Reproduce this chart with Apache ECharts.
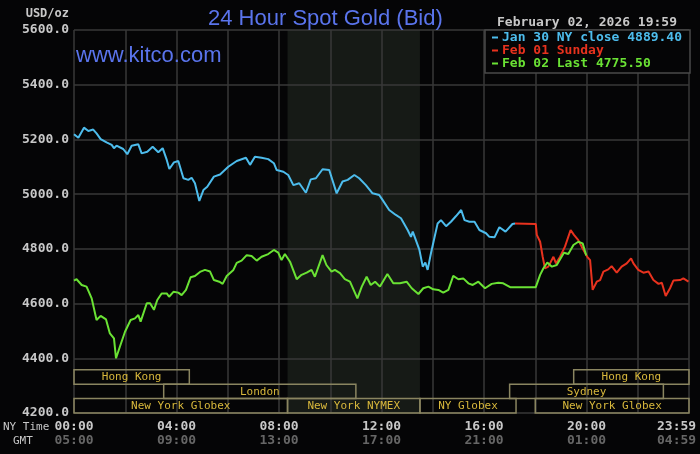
<!DOCTYPE html>
<html><head><meta charset="utf-8">
<script src="https://cdn.jsdelivr.net/npm/echarts@6/dist/echarts.min.js"></script>
<style>html,body{margin:0;padding:0;background:#050506;}#c{width:700px;height:454px;}</style>
</head><body><div id="c"></div>
<script>
// ---- data ----
const seriesNames = ['Jan 30 NY close 4889.40', 'Feb 01 Sunday', 'Feb 02 Last 4775.50'];
// [hour, price]
const jan30 = [[0,5219],[0.17,5206],[0.39,5243],[0.56,5231],[0.75,5236],[0.88,5222],[1.04,5201],[1.27,5189],[1.47,5180],[1.56,5168],[1.66,5177],[1.92,5165],[2.08,5146],[2.25,5177],[2.51,5182],[2.64,5149],[2.86,5155],[3.07,5173],[3.29,5153],[3.46,5168],[3.62,5125],[3.72,5092],[3.90,5116],[4.07,5121],[4.27,5058],[4.46,5052],[4.59,5060],[4.72,5040],[4.89,4975],[5.05,5015],[5.20,5027],[5.46,5064],[5.70,5072],[6.02,5100],[6.35,5121],[6.71,5133],[6.87,5107],[7.06,5137],[7.32,5133],[7.58,5128],[7.80,5113],[7.91,5088],[8.17,5082],[8.36,5070],[8.56,5033],[8.79,5040],[9.05,5005],[9.24,5054],[9.44,5058],[9.70,5091],[9.96,5088],[10.25,5003],[10.48,5046],[10.68,5052],[10.94,5070],[11.13,5058],[11.39,5033],[11.65,5003],[11.91,4997],[12.04,4979],[12.30,4942],[12.56,4924],[12.76,4912],[13.02,4869],[13.15,4844],[13.22,4863],[13.48,4796],[13.61,4735],[13.71,4750],[13.80,4723],[13.93,4784],[14.19,4893],[14.32,4905],[14.52,4883],[14.71,4899],[14.91,4920],[15.11,4942],[15.24,4905],[15.43,4899],[15.63,4899],[15.82,4869],[16.08,4857],[16.21,4844],[16.41,4842],[16.60,4879],[16.84,4863],[17.11,4891],[17.21,4893]];
const feb01 = [[17.21,4893],[18.02,4891],[18.06,4851],[18.19,4826],[18.29,4771],[18.38,4729],[18.51,4735],[18.71,4771],[18.81,4747],[18.97,4771],[19.16,4808],[19.38,4869],[19.51,4851],[19.68,4832],[19.81,4808],[20.03,4771],[20.14,4759],[20.24,4650],[20.40,4680],[20.53,4686],[20.66,4717],[20.85,4725],[20.98,4737],[21.18,4713],[21.37,4735],[21.57,4747],[21.74,4765],[21.83,4747],[22.02,4723],[22.22,4713],[22.42,4717],[22.61,4686],[22.81,4672],[22.94,4676],[23.09,4628],[23.26,4656],[23.39,4684],[23.65,4686],[23.78,4692],[23.98,4680]];
const feb02 = [[0,4684],[0.10,4689],[0.30,4668],[0.49,4662],[0.69,4619],[0.88,4540],[1.04,4555],[1.25,4542],[1.40,4491],[1.56,4473],[1.64,4400],[1.79,4442],[1.99,4497],[2.21,4540],[2.38,4546],[2.51,4558],[2.60,4534],[2.84,4601],[2.97,4601],[3.12,4577],[3.25,4613],[3.42,4637],[3.62,4637],[3.71,4625],[3.88,4643],[4.07,4640],[4.20,4631],[4.37,4650],[4.55,4696],[4.72,4701],[4.94,4717],[5.11,4723],[5.31,4717],[5.46,4686],[5.67,4680],[5.80,4672],[5.96,4701],[6.22,4723],[6.35,4749],[6.54,4757],[6.74,4777],[6.93,4774],[7.13,4757],[7.32,4771],[7.58,4781],[7.80,4796],[7.97,4786],[8.10,4759],[8.23,4781],[8.43,4753],[8.69,4689],[8.88,4705],[9.08,4713],[9.27,4723],[9.40,4698],[9.70,4777],[9.85,4741],[10.05,4717],[10.18,4723],[10.38,4711],[10.57,4689],[10.77,4680],[11.06,4619],[11.23,4662],[11.42,4698],[11.58,4668],[11.75,4680],[11.94,4662],[12.23,4708],[12.46,4674],[12.72,4674],[12.98,4680],[13.18,4656],[13.44,4635],[13.63,4656],[13.83,4662],[14.02,4652],[14.22,4650],[14.41,4640],[14.61,4650],[14.80,4701],[15.00,4689],[15.19,4692],[15.39,4674],[15.56,4668],[15.78,4680],[16.04,4656],[16.30,4672],[16.56,4676],[16.75,4674],[17.02,4660],[18.02,4660],[18.19,4705],[18.32,4729],[18.47,4750],[18.65,4735],[18.84,4741],[18.97,4762],[19.12,4786],[19.29,4781],[19.49,4814],[19.68,4826],[19.85,4820],[19.99,4776]];
const nyTimeLabels = {0:'00:00',4:'04:00',8:'08:00',12:'12:00',16:'16:00',20:'20:00',24:'23:59'};
const gmtLabels = {0:'05:00',4:'09:00',8:'13:00',12:'17:00',16:'21:00',20:'01:00',24:'04:59'};
// sessions: [start hour, end hour, row, name]
const sessions = [[0,4.5,0,'Hong Kong'],[19.5,24,0,'Hong Kong'],[3.5,11,1,'London'],[17,23,1,'Sydney'],[0,8.333,2,'New York Globex'],[8.333,13.5,2,'New York NYMEX'],[13.5,17.25,2,'NY Globex'],[18,24,2,'New York Globex']];
const shaded = [[8.333,13.5]];

const chart = echarts.init(document.getElementById('c'));
const mono = 'DejaVu Sans Mono';
const sans = 'Liberation Sans';
const colors = ['#4dbcec','#e8321e','#6ae234'];

chart.setOption({
  backgroundColor: '#050506',
  animation: false,
  title: [
    {text:'24 Hour Spot Gold (Bid)', left:203, top:3, textStyle:{color:'#5a74ec', fontFamily:sans, fontSize:22, fontWeight:'normal'}},
    {text:'www.kitco.com', left:71, top:40, textStyle:{color:'#5a74ec', fontFamily:sans, fontSize:22, fontWeight:'normal'}},
    {text:'February 02, 2026 19:59', right:18, top:11, textStyle:{color:'#c8c8c8', fontFamily:mono, fontSize:13, fontWeight:'bold'}}
  ],
  legend: {
    left:485, top:30, orient:'vertical', selectedMode:false,
    backgroundColor:'#050506', borderColor:'#4a4a4a', borderWidth:1.5, borderRadius:0,
    padding:[1,8,3,7], itemGap:0, itemWidth:6, itemHeight:2, icon:'rect',
    textStyle:{fontFamily:mono, fontSize:13, fontWeight:'bold', lineHeight:13, padding:[0,0,0,-1]},
    data: seriesNames.map((n,i)=>({name:n, itemStyle:{color:colors[i]}, textStyle:{color:colors[i]}}))
  },
  graphic: [
    {type:'text', left:3, top:422, style:{text:'NY Time', fill:'#c8c8c8', font:'11px '+mono}},
    {type:'text', left:13, top:436, style:{text:'GMT', fill:'#c8c8c8', font:'11px '+mono}}
  ],
  grid: {left:74, right:11, top:30, bottom:41, containLabel:false, outerBoundsMode:'none'},
  xAxis: {
    type:'value', min:0, max:24, interval:2,
    axisLine:{show:false}, axisTick:{show:false},
    splitLine:{show:true, lineStyle:{color:'#383838', width:1.5}},
    axisLabel:{
      margin:7,
      formatter:function(v){
        if(!(v in nyTimeLabels)) return '';
        if(v===24) return '{am|'+nyTimeLabels[v]+'}\n{bm|'+gmtLabels[v]+'}';
        return '{a|'+nyTimeLabels[v]+'}\n{b|'+gmtLabels[v]+'}';
      },
      rich:{
        a:{color:'#c8c8c8', fontFamily:mono, fontSize:13, fontWeight:'bold', lineHeight:14},
        b:{color:'#666', fontFamily:mono, fontSize:13, fontWeight:'bold', lineHeight:14},
        am:{color:'#c8c8c8', fontFamily:mono, fontSize:13, fontWeight:'bold', lineHeight:14, width:64, align:'left'},
        bm:{color:'#666', fontFamily:mono, fontSize:13, fontWeight:'bold', lineHeight:14, width:64, align:'left'}
      }
    }
  },
  yAxis: {
    type:'value', min:4200, max:5600, interval:200,
    name:'USD/oz', nameLocation:'end', nameGap:10,
    nameTextStyle:{color:'#c8c8c8', fontFamily:mono, fontSize:12, fontWeight:'bold', align:'right', padding:[0,5,0,0]},
    axisLine:{show:false}, axisTick:{show:false},
    splitLine:{show:true, lineStyle:{color:'#383838', width:1.5}},
    axisLabel:{margin:5, color:'#c8c8c8', fontFamily:mono, fontSize:13, fontWeight:'bold', formatter:v=>v.toFixed(1)}
  },
  series: [
    {type:'custom', z:-1, silent:true, data:shaded,
      renderItem:function(params, api){
        const x0 = api.coord([api.value(0), 5600]);
        const x1 = api.coord([api.value(1), 4200]);
        return {type:'rect', shape:{x:x0[0], y:x0[1], width:x1[0]-x0[0], height:x1[1]-x0[1]}, style:{fill:'#161a16'}};
      }},
    {name:seriesNames[0], type:'line', data:jan30, showSymbol:false, color:colors[0], lineStyle:{width:2, color:colors[0]}},
    {name:seriesNames[1], type:'line', data:feb01, showSymbol:false, color:colors[1], lineStyle:{width:2, color:colors[1]}},
    {name:seriesNames[2], type:'line', data:feb02, showSymbol:false, color:colors[2], lineStyle:{width:2, color:colors[2]}},
    {type:'custom', z:5, silent:true, data:sessions,
      renderItem:function(params, api){
        const cs = params.coordSys;
        const rowH = 14.4;
        const bottom = cs.y + cs.height;
        const r = api.value(2);
        const xa = api.coord([api.value(0), 4200])[0];
        const xb = api.coord([api.value(1), 4200])[0];
        const top = bottom - (3 - r) * rowH;
        return {type:'group', children:[
          {type:'rect', shape:{x:xa, y:top, width:xb-xa, height:rowH}, style:{fill:null, stroke:'#8a8560', lineWidth:1.5}},
          {type:'text', x:(xa+xb)/2, y:top+rowH/2+0.5, style:{text:sessions[params.dataIndex][3], fill:'#d8b83c', font:'11px '+mono, align:'center', verticalAlign:'middle'}}
        ]};
      }}
  ]
});
</script></body></html>
